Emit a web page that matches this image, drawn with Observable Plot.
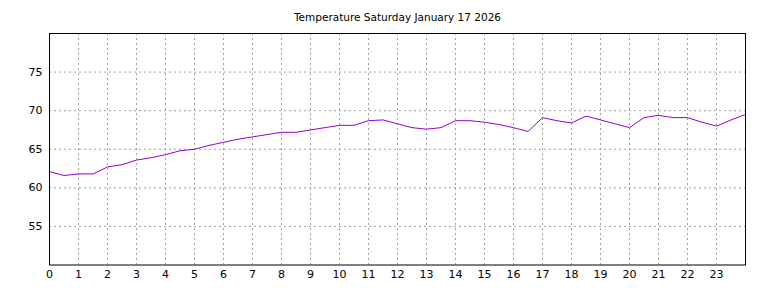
<!DOCTYPE html>
<html>
<head>
<meta charset="utf-8">
<script src="https://cdn.jsdelivr.net/npm/d3@7"></script>
<script src="https://cdn.jsdelivr.net/npm/@observablehq/plot@0.6"></script>
<style>
  html, body { margin: 0; padding: 0; background: #fff; }
  svg { display: block; }
</style>
</head>
<body>
<div id="chart"></div>
<script>
const title = "Temperature Saturday January 17 2026";
const hours = [0, 0.5, 1, 1.5, 2, 2.5, 3, 3.5, 4, 4.5, 5, 5.5, 6, 6.5, 7, 7.5, 8, 8.5, 9, 9.5,
  10, 10.5, 11, 11.5, 12, 12.5, 13, 13.5, 14, 14.5, 15, 15.5, 16, 16.5, 17, 17.5, 18, 18.5, 19, 19.5,
  20, 20.5, 21, 21.5, 22, 22.5, 23, 23.5, 24];
const temps = [62.1, 61.6, 61.8, 61.8, 62.7, 63.0, 63.6, 63.9, 64.3, 64.8, 65.0, 65.5, 65.9, 66.3, 66.6, 66.9, 67.2, 67.2, 67.5, 67.8,
  68.1, 68.1, 68.7, 68.8, 68.3, 67.8, 67.6, 67.8, 68.7, 68.7, 68.5, 68.2, 67.8, 67.3, 69.1, 68.7, 68.4, 69.3, 68.8, 68.3,
  67.8, 69.1, 69.4, 69.1, 69.1, 68.5, 68.0, 68.8, 69.5];
const xTicks = [0, 1, 2, 3, 4, 5, 6, 7, 8, 9, 10, 11, 12, 13, 14, 15, 16, 17, 18, 19, 20, 21, 22, 23];
const yTicks = [55, 60, 65, 70, 75];

const data = hours.map((h, i) => ({hour: h, temp: temps[i]}));

const chart = Plot.plot({
  width: 768,
  height: 288,
  marginLeft: 49,
  marginRight: 23,
  marginTop: 33,
  marginBottom: 23.5,
  style: {fontFamily: "DejaVu Sans", fontSize: "10px", color: "black", background: "white"},
  x: {domain: [0, 24]},
  y: {domain: [50, 80]},
  marks: [
    Plot.gridX(xTicks.filter(d => d > 0), {stroke: "#a0a0a0", strokeOpacity: 1, strokeDasharray: "2,3"}),
    Plot.gridY(yTicks, {stroke: "#a0a0a0", strokeOpacity: 1, strokeDasharray: "2,3"}),
    Plot.axisX(xTicks, {tickSize: 0, tickPadding: 5, label: null, fill: "black", fontSize: 11}),
    Plot.axisY(yTicks, {tickSize: 0, tickPadding: 7, label: null, fill: "black", fontSize: 11}),
    Plot.line(data, {x: "hour", y: "temp", stroke: "#9400d3", strokeWidth: 1}),
    Plot.frame({stroke: "black", strokeWidth: 1}),
    Plot.text([title], {frameAnchor: "top", dy: -20, fill: "black", fontSize: 10.5})
  ]
});
document.getElementById("chart").appendChild(chart);
</script>
</body>
</html>
